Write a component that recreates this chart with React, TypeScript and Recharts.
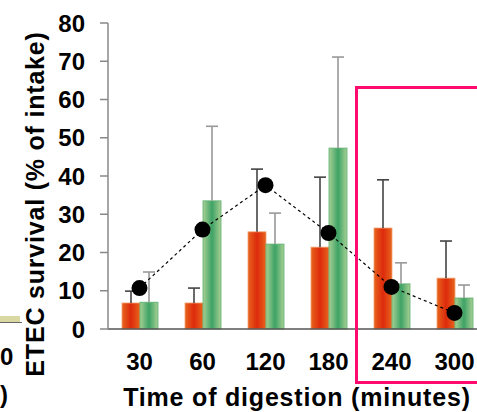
import React from "react";
import {
  ComposedChart,
  Bar,
  Line,
  XAxis,
  YAxis,
  Label,
} from "recharts";

const times = ["30", "60", "120", "180", "240", "300"];
const redMean = [6.8, 6.8, 25.4, 21.4, 26.4, 13.3];
const redHigh = [9.9, 10.7, 41.8, 39.7, 39, 23];
const greenMean = [7, 33.5, 22.2, 47.3, 11.8, 8.1];
const greenHigh = [14.9, 53, 30.3, 71.1, 17.3, 11.5];
const overall = [10.7, 26, 37.6, 25.1, 11, 4.2];
const yTicks = [0, 10, 20, 30, 40, 50, 60, 70, 80];

const data = times.map((t, i) => ({
  time: t,
  red: redMean[i],
  redHi: redHigh[i],
  green: greenMean[i],
  greenHi: greenHigh[i],
  mean: overall[i],
}));

const font = "'Liberation Sans', Arial, sans-serif";
const titleStyle = { fontSize: 25, fontWeight: 700, fill: "#000", fontFamily: font, letterSpacing: 0.8 };

// bar rect + upward-only error whisker, scaled from the bar's own geometry
function barWithError(key: string, hiKey: string, gradId: string, edge: string, errColor: string) {
  return (props: any) => {
    const { x, y, width, height, payload } = props;
    const val = payload[key];
    const pxPerUnit = val ? height / val : 0;
    const top = y - (payload[hiKey] - val) * pxPerUnit;
    const cx = x + width / 2;
    return (
      <g>
        <rect x={x} y={y} width={width} height={height} fill={`url(#${gradId})`} stroke={edge} strokeWidth={0.8} />
        <line x1={cx} y1={y} x2={cx} y2={top} stroke={errColor} strokeWidth={1.6} />
        <line x1={cx - 6} y1={top} x2={cx + 6} y2={top} stroke={errColor} strokeWidth={1.6} />
      </g>
    );
  };
}

export default function App() {
  return (
    <div
      style={{
        position: "absolute",
        left: 0,
        top: 0,
        width: 477,
        height: 412,
        overflow: "hidden",
        background: "#fff",
        fontFamily: font,
      }}
    >
      {/* fragment of the neighbouring panel */}
      <div style={{ position: "absolute", left: 0, top: 316, width: 20, height: 6, background: "#d8d8a0" }} />
      <div style={{ position: "absolute", left: 0, top: 322, width: 22, height: 1, background: "#666" }} />
      <div style={{ position: "absolute", left: 0, top: 343, fontSize: 24, fontWeight: 700, lineHeight: "28px" }}>0</div>
      <div style={{ position: "absolute", left: 0, top: 381, fontSize: 24, fontWeight: 700, lineHeight: "28px" }}>)</div>

      <ComposedChart
        width={486}
        height={412}
        data={data}
        margin={{ top: 23, right: 0, left: 0, bottom: 0 }}
        barGap={0}
        barSize={18}
      >
        <defs>
          <linearGradient id="redGrad" x1="0" y1="0" x2="1" y2="0">
            <stop offset="0%" stopColor="#e8641c" />
            <stop offset="50%" stopColor="#dc2a0c" />
            <stop offset="100%" stopColor="#e8641c" />
          </linearGradient>
          <linearGradient id="greenGrad" x1="0" y1="0" x2="1" y2="0">
            <stop offset="0%" stopColor="#a8d094" />
            <stop offset="50%" stopColor="#3da265" />
            <stop offset="100%" stopColor="#a8d094" />
          </linearGradient>
        </defs>
        <XAxis
          dataKey="time"
          height={83}
          axisLine={{ stroke: "#555", strokeWidth: 1.5 }}
          tickLine={false}
          tickSize={0}
          tickMargin={24}
          tick={{ fontSize: 24, fontWeight: 700, fill: "#000", fontFamily: font }}
          interval={0}
        >
          <Label value="Time of digestion (minutes)" position="insideBottom" offset={6} style={titleStyle} />
        </XAxis>
        <YAxis
          width={108}
          domain={[0, 80]}
          ticks={yTicks}
          interval={0}
          axisLine={{ stroke: "#888", strokeWidth: 1.5 }}
          tickLine={{ stroke: "#888", strokeWidth: 1.5 }}
          tickSize={8}
          tickMargin={15}
          tick={{ fontSize: 24, fontWeight: 700, fill: "#000", fontFamily: font }}
        >
          <Label
            content={(p: any) => {
              const vb = p.viewBox;
              const cx = vb.x + 44;
              const cy = vb.y + vb.height / 2 + 28;
              return (
                <text x={cx} y={cy} transform={`rotate(-90, ${cx}, ${cy})`} textAnchor="middle" style={titleStyle}>
                  ETEC survival (% of intake)
                </text>
              );
            }}
          />
        </YAxis>
        <Bar
          dataKey="red"
          isAnimationActive={false}
          shape={barWithError("red", "redHi", "redGrad", "#f0a070", "#444")}
        />
        <Bar
          dataKey="green"
          isAnimationActive={false}
          shape={barWithError("green", "greenHi", "greenGrad", "#5cb070", "#999")}
        />
        <Line
          dataKey="mean"
          type="linear"
          stroke="#000"
          strokeWidth={1.2}
          strokeDasharray="3 3"
          dot={{ r: 8, fill: "#000", stroke: "#000", strokeWidth: 0 }}
          activeDot={false}
          isAnimationActive={false}
        />
      </ComposedChart>

      {/* highlight box around the late time points */}
      <div
        style={{
          position: "absolute",
          left: 355,
          top: 86,
          width: 200,
          height: 292,
          border: "3px solid #ff0a6e",
          pointerEvents: "none",
        }}
      />
    </div>
  );
}
